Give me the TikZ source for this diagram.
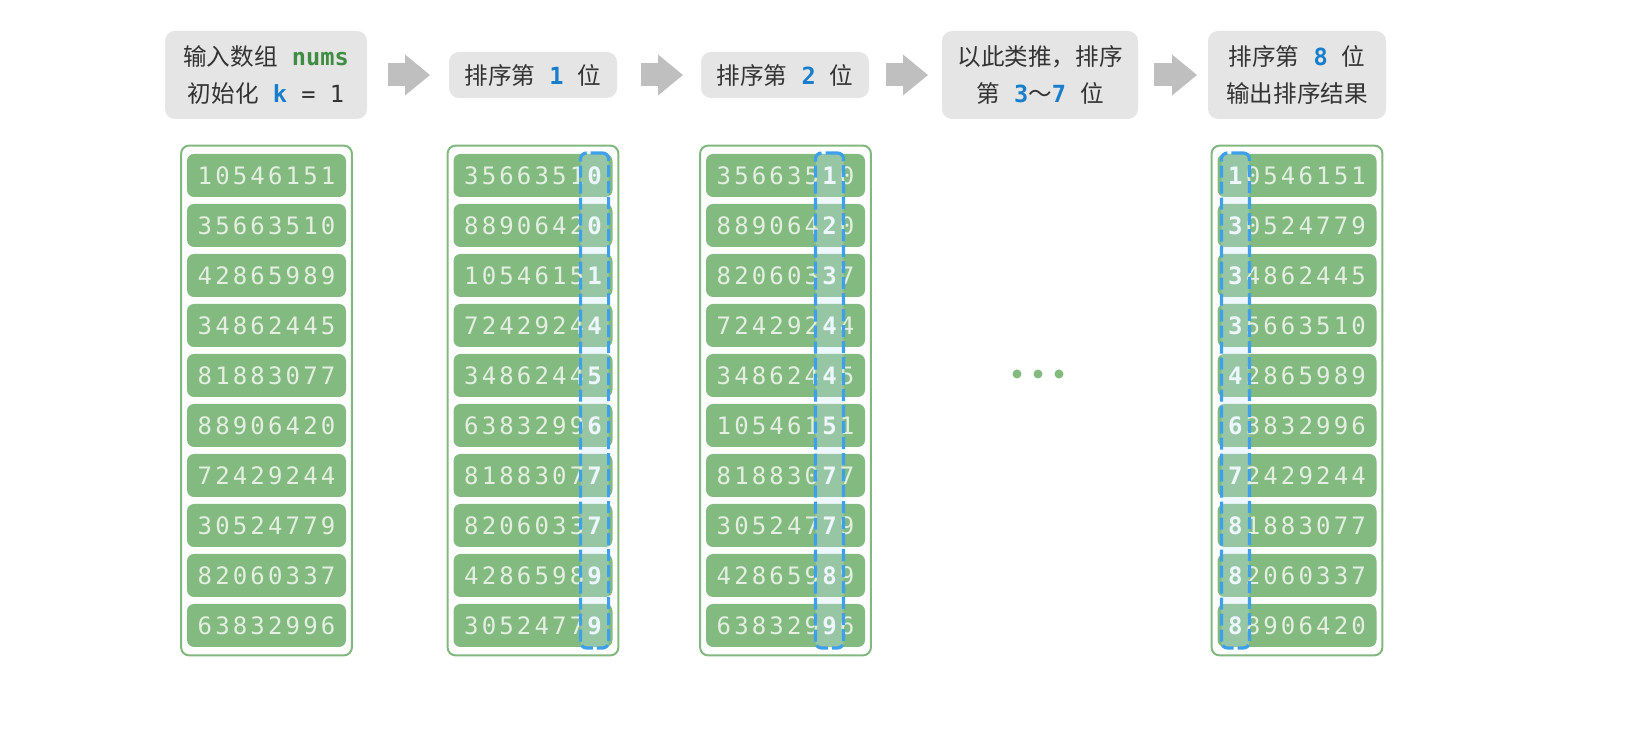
\documentclass[tikz,border=0pt]{standalone}
\usepackage{fontspec}
\setmonofont{DejaVu Sans Mono}
\newfontfamily\cjkfont{Noto Sans CJK SC}
\usepackage{xcolor}
\usetikzlibrary{arrows.meta, positioning, fit, calc}
\definecolor{cellgreen}{RGB}{131,186,128}
\definecolor{framegreen}{RGB}{130,184,127}
\definecolor{digitlight}{RGB}{228,239,226}
\definecolor{boxgray}{RGB}{229,229,229}
\definecolor{arrowgray}{RGB}{191,191,191}
\definecolor{textdark}{RGB}{51,51,51}
\definecolor{numsgreen}{RGB}{64,140,66}
\definecolor{keyblue}{RGB}{24,126,204}
\definecolor{dashblue}{RGB}{62,160,234}
\definecolor{hlfill}{RGB}{196,227,248}

% eight digits of one cell, placed one by one
\newcommand\putdigits[8]{%
  \foreach \dg [count=\j] in {#1,#2,#3,#4,#5,#6,#7,#8} {
    \node[digit] (\colname\i-\j) at (\colx+17.6*\j-79.2, 125.5+50*\i)
      {\ifnum\j=\hlpos\relax\bfseries\color{white}\fi\dg};
  }%
}

\begin{document}
\begin{tikzpicture}[
    x=0.5pt, y=-0.5pt,
    stepbox/.style={fill=boxgray, rounded corners=5pt, align=center, text=textdark, inner sep=0pt, outer sep=0pt, font=\cjkfont\fontsize{11.8}{18.5}\selectfont},
    flow/.style={draw=arrowgray, line width=11.5pt, -{Triangle[length=12.5pt, width=20.5pt, line width=0pt]}},
    cell/.style={fill=cellgreen, rounded corners=3.5pt, minimum width=79.5pt, minimum height=21.5pt, inner sep=0pt},
    digit/.style={text=digitlight, inner sep=0pt, font=\ttfamily\fontsize{12}{12}\selectfont},
    frame/.style={draw=framegreen, line width=1pt, rounded corners=4pt, inner xsep=2.75pt, inner ysep=4pt},
    hlbox/.style={draw=dashblue, fill=hlfill, fill opacity=0.3, line width=1.6pt, dash pattern=on 6pt off 2pt, rounded corners=3pt, minimum width=14pt, minimum height=247.5pt, inner sep=0pt},
    dot/.style={circle, fill=cellgreen, minimum size=4.5pt, inner sep=0pt}
]
    \useasboundingbox (0,0) rectangle (1629,742);

    % steps on top
    \node[stepbox, minimum width=101pt, minimum height=44pt] (s1) at (266,75)
        {输入数组{\ttfamily\ \textcolor{numsgreen}{\bfseries nums}}\\初始化{\ttfamily\ \textcolor{keyblue}{\bfseries k} = 1}};
    \node[stepbox, minimum width=84pt, minimum height=23pt] (s2) at (533,75)
        {排序第{\ttfamily\ \textcolor{keyblue}{\bfseries 1}\ }位};
    \node[stepbox, minimum width=84pt, minimum height=23pt] (s3) at (785,75)
        {排序第{\ttfamily\ \textcolor{keyblue}{\bfseries 2}\ }位};
    \node[stepbox, minimum width=98pt, minimum height=44pt] (s4) at (1040,75)
        {以此类推，排序\\第{\ttfamily\ \textcolor{keyblue}{\bfseries 3}}～{\ttfamily\textcolor{keyblue}{\bfseries 7}\ }位};
    \node[stepbox, minimum width=89pt, minimum height=44pt] (s5) at (1297,75)
        {排序第{\ttfamily\ \textcolor{keyblue}{\bfseries 8}\ }位\\输出排序结果};

    \draw[flow, shorten <=10.5pt, shorten >=9.5pt] (s1) -- (s2);
    \draw[flow, shorten <=12pt, shorten >=9pt] (s2) -- (s3);
    \draw[flow, shorten <=8.5pt, shorten >=7pt] (s3) -- (s4);
    \draw[flow, shorten <=8pt, shorten >=5.5pt] (s4) -- (s5);

    % columns of numbers
    \foreach \colname/\colx/\hlpos/\vals in {
        a/266.5/0/{10546151, 35663510, 42865989, 34862445, 81883077, 88906420, 72429244, 30524779, 82060337, 63832996},
        b/533/8/{35663510, 88906420, 10546151, 72429244, 34862445, 63832996, 81883077, 82060337, 42865989, 30524779},
        c/785.5/7/{35663510, 88906420, 82060337, 72429244, 34862445, 10546151, 81883077, 30524779, 42865989, 63832996},
        e/1297/1/{10546151, 30524779, 34862445, 35663510, 42865989, 63832996, 72429244, 81883077, 82060337, 88906420}} {
        \foreach \val [count=\i] in \vals {
            \node[cell] (\colname\i) at (\colx, 125.5+50*\i) {};
            \expandafter\putdigits\val
        }
        \node[frame, fit=(\colname1)(\colname10)] (f\colname) {};
    }

    % digit being sorted
    \node[hlbox] (hb) at ($(b1-8)!0.5!(b10-8)$) {};
    \node[hlbox] (hc) at ($(c1-7)!0.5!(c10-7)$) {};
    \node[hlbox] (he) at ($(e1-1)!0.5!(e10-1)$) {};

    \node[dot] (dot1) at (1017,374) {};
    \node[dot] (dot2) at (1038,374) {};
    \node[dot] (dot3) at (1059,374) {};
\end{tikzpicture}
\end{document}
